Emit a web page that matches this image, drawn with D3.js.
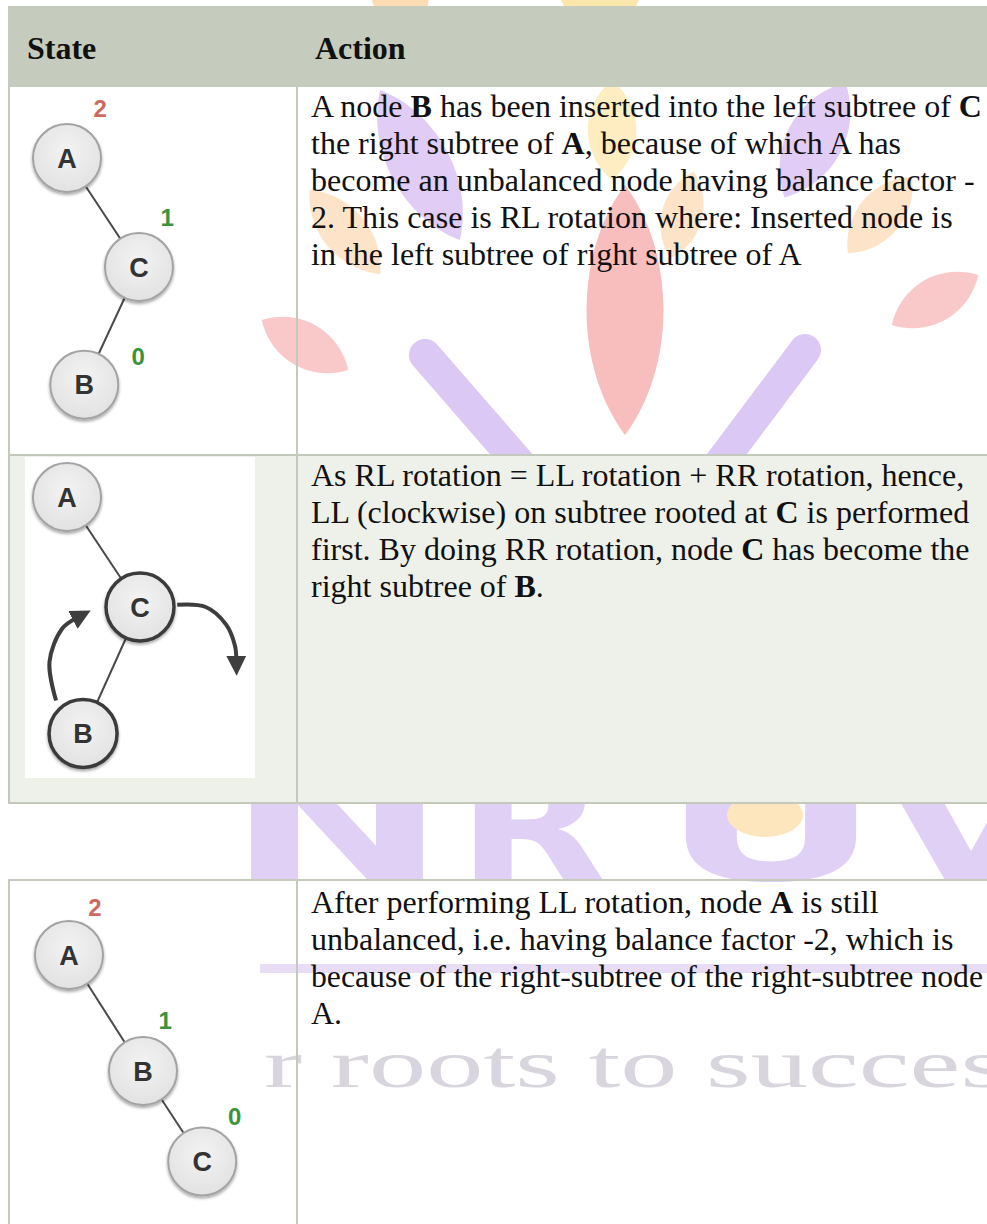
<!DOCTYPE html>
<html><head><meta charset="utf-8">
<script src="https://cdn.jsdelivr.net/npm/d3@7"></script>
<style>body{margin:0;background:#fff}svg{display:block}</style>
</head><body><div id="chart"></div>
<script>
// ---------- data ----------
const columnHeaders = ["State", "Action"];
const row1Lines = [
  "A node **B** has been inserted into the left subtree of **C**",
  "the right subtree of **A**, because of which A has",
  "become an unbalanced node having balance factor -",
  "2. This case is RL rotation where: Inserted node is",
  "in the left subtree of right subtree of A"
];
const row2Lines = [
  "As RL rotation = LL rotation + RR rotation, hence,",
  "LL (clockwise) on subtree rooted at **C** is performed",
  "first. By doing RR rotation, node **C** has become the",
  "right subtree of **B**."
];
const row3Lines = [
  "After performing LL rotation, node **A** is still",
  "unbalanced, i.e. having balance factor -2, which is",
  "because of the right-subtree of the right-subtree node",
  "A."
];
// tree diagrams in diagram units (col = horizontal step, level = depth step)
const tree1Nodes = [{id:"A",col:0,level:0},{id:"C",col:1,level:1},{id:"B",col:0.24,level:2.08}];
const tree1Edges = [["A","C"],["C","B"]];
const tree1Factors = [{text:"2",col:0.46,level:-0.46},{text:"1",col:1.39,level:0.54},{text:"0",col:0.99,level:1.82}];

const tree2Nodes = [{id:"A",col:0,level:0,focus:false},{id:"C",col:1,level:1,focus:true},{id:"B",col:0.22,level:2.15,focus:true}];
const tree2Edges = [["A","C"],["C","B"]];
const tree2Arrows = [
  [[-0.15,1.85],[-0.24,1.5],[-0.07,1.2],[0.13,1.1]],
  [[1.51,0.98],[1.9,1.0],[2.18,1.16],[2.3,1.35],[2.32,1.48]]
];

const tree3Nodes = [{id:"A",col:0,level:0},{id:"B",col:1,level:1},{id:"C",col:1.8,level:1.78}];
const tree3Edges = [["A","B"],["B","C"]];
const tree3Factors = [{text:"2",col:0.35,level:-0.41},{text:"1",col:1.3,level:0.56},{text:"0",col:2.24,level:1.39}];

const watermarkLetters = ["N","R","U","V"];
const watermarkTagline = "r roots to succes";

// ---------- drawing ----------
const W = 987, H = 1224;
const svg = d3.select("#chart").append("svg").attr("width", W).attr("height", H);
const defs = svg.append("defs");
const sh = defs.append("filter").attr("id","shadow").attr("x","-30%").attr("y","-30%").attr("width","160%").attr("height","160%");
sh.append("feDropShadow").attr("dx",0).attr("dy",2).attr("stdDeviation",1.6).attr("flood-color","#000").attr("flood-opacity",0.35);
const grad = defs.append("radialGradient").attr("id","nodeFill").attr("cx","50%").attr("cy","40%").attr("r","60%");
grad.append("stop").attr("offset","0%").attr("stop-color","#f3f3f3");
grad.append("stop").attr("offset","100%").attr("stop-color","#e2e2e2");
const mk = defs.append("marker").attr("id","arrowHead").attr("viewBox","0 0 10 10")
  .attr("refX",2).attr("refY",5).attr("markerWidth",20).attr("markerHeight",20)
  .attr("markerUnits","userSpaceOnUse").attr("orient","auto");
mk.append("path").attr("d","M0,0 L10,5 L0,10 z").attr("fill","#3e3e3e");

svg.append("rect").attr("width",W).attr("height",H).attr("fill","#fff");

// watermark (decorative logo)
const wm = svg.append("g");
function leaf(cx, cy, rx, ry, rot, fill) {
  wm.append("path")
    .attr("d", `M0,${-ry} C${rx*1.35},${-ry*0.45} ${rx*1.35},${ry*0.45} 0,${ry} C${-rx*1.35},${ry*0.45} ${-rx*1.35},${-ry*0.45} 0,${-ry}Z`)
    .attr("transform", `translate(${cx},${cy}) rotate(${rot})`)
    .attr("fill", fill);
}
leaf(600, -10, 40, 45, 0, "#fbe6ab");
leaf(400, -5, 28, 40, -20, "#fcdcb2");
leaf(420, 165, 30, 85, -28, "#e0ccf5");
leaf(815, 140, 28, 65, 28, "#e0ccf5");
leaf(612, 130, 24, 50, 0, "#fdedc0");
leaf(345, 232, 22, 55, -40, "#fde3c8");
leaf(682, 215, 20, 45, 15, "#fde3c8");
leaf(880, 215, 22, 50, 40, "#fde3c8");
leaf(625, 310, 38, 125, 0, "#f8bdbd");
leaf(305, 345, 22, 50, -60, "#f9c9c9");
leaf(935, 300, 22, 50, 60, "#f9c9c9");
wm.append("line").attr("x1",425).attr("y1",355).attr("x2",525).attr("y2",470)
  .attr("stroke","#dcc8f4").attr("stroke-width",32).attr("stroke-linecap","round");
wm.append("line").attr("x1",805).attr("y1",350).attr("x2",715).attr("y2",470)
  .attr("stroke","#dcc8f4").attr("stroke-width",32).attr("stroke-linecap","round");
const letterX = [227, 457, 661, 881], letterW = [220, 150, 220, 180];
const lt = wm.append("text").attr("y",880)
  .attr("font-family","DejaVu Sans").attr("font-weight","bold").attr("font-size",150)
  .attr("fill","#e0d0f5");
watermarkLetters.forEach((c,i)=>{
  lt.append("tspan").attr("x",letterX[i]).attr("textLength",letterW[i])
    .attr("lengthAdjust","spacingAndGlyphs").text(c);
});
wm.append("ellipse").attr("cx",765).attr("cy",815).attr("rx",38).attr("ry",22).attr("fill","#fde6bd");
wm.append("rect").attr("x",230).attr("y",964).attr("width",W-230).attr("height",9).attr("fill","#e8ddf4");
wm.append("text").attr("x",264).attr("y",1087)
  .attr("font-family","Liberation Serif").attr("font-size",68)
  .attr("textLength",741).attr("lengthAdjust","spacingAndGlyphs")
  .attr("fill","#d8d5de").text(watermarkTagline);

// table
const borderColor = "#c3c9bb";
const colX = 297, leftX = 9;
svg.append("rect").attr("x",8).attr("y",6).attr("width",W-8).attr("height",81).attr("fill","#c5cbbd");
svg.append("rect").attr("x",leftX).attr("y",455).attr("width",W-leftX).attr("height",348).attr("fill","#eef0ea");
// picture boxes
const boxes = [[10,88,248,366],[25,457,230,321],[11,883,249,341]];
svg.selectAll("rect.pic").data(boxes).enter().append("rect").attr("class","pic")
  .attr("x",d=>d[0]).attr("y",d=>d[1]).attr("width",d=>d[2]).attr("height",d=>d[3]).attr("fill","#fff");
// borders
const bl = svg.append("g").attr("stroke",borderColor).attr("stroke-width",2);
[[leftX,87,leftX,803],[leftX,880,leftX,H],[colX,87,colX,803],[colX,880,colX,H],
 [leftX,455,W,455],[leftX-1,803,W,803],[leftX-1,880,W,880]].forEach(l=>{
  bl.append("line").attr("x1",l[0]).attr("y1",l[1]).attr("x2",l[2]).attr("y2",l[3]);
});

// header texts
svg.selectAll("text.hdr").data(columnHeaders).enter().append("text").attr("class","hdr")
  .attr("x",(d,i)=> i===0 ? 27 : 315).attr("y",59)
  .attr("font-family","Liberation Serif").attr("font-weight","bold").attr("font-size",32)
  .attr("fill","#111").text(d=>d);

function drawLines(lines, top) {
  const g = svg.append("g").attr("font-family","Liberation Serif").attr("font-size",32).attr("fill","#111");
  lines.forEach((line, i) => {
    const t = g.append("text").attr("x",311).attr("y", top + i*37).attr("xml:space","preserve");
    line.split("**").forEach((seg, j) => {
      if (!seg) return;
      t.append("tspan").attr("font-weight", j%2 ? "bold" : "normal").text(seg);
    });
    const len = t.node().getBBox().width;
    if (311 + len > W - 4) t.attr("textLength", W - 4 - 311).attr("lengthAdjust","spacingAndGlyphs");
  });
}
drawLines(row1Lines, 117);
drawLines(row2Lines, 486);
drawLines(row3Lines, 913);

function drawTree(nodes, edges, factors, arrows, ox, oy, ux, uy) {
  const x = d3.scaleLinear().domain([0,1]).range([ox, ox+ux]);
  const y = d3.scaleLinear().domain([0,1]).range([oy, oy+uy]);
  const byId = new Map(nodes.map(n=>[n.id,n]));
  const g = svg.append("g");
  g.selectAll("line.edge").data(edges).enter().append("line")
    .attr("x1",d=>x(byId.get(d[0]).col)).attr("y1",d=>y(byId.get(d[0]).level))
    .attr("x2",d=>x(byId.get(d[1]).col)).attr("y2",d=>y(byId.get(d[1]).level))
    .attr("stroke","#4a4a4a").attr("stroke-width",2);
  if (arrows) {
    const line = d3.line().x(p=>x(p[0])).y(p=>y(p[1])).curve(d3.curveCatmullRom);
    g.selectAll("path.arrow").data(arrows).enter().append("path")
      .attr("d", line).attr("fill","none").attr("stroke","#3e3e3e").attr("stroke-width",4)
      .attr("marker-end","url(#arrowHead)");
  }
  const ng = g.selectAll("g.node").data(nodes).enter().append("g")
    .attr("transform", d=>`translate(${x(d.col)},${y(d.level)})`);
  ng.append("circle").attr("r",34).attr("fill","url(#nodeFill)")
    .attr("stroke", d=>d.focus ? "#3a3a3a" : "#a3a3a3")
    .attr("stroke-width", d=>d.focus ? 3.5 : 2).attr("filter","url(#shadow)");
  ng.append("text").attr("text-anchor","middle").attr("dy","0.36em")
    .attr("font-family","Liberation Sans").attr("font-weight","bold").attr("font-size",27)
    .attr("fill","#333").text(d=>d.id);
  if (factors) {
    g.selectAll("text.bf").data(factors).enter().append("text")
      .attr("x",d=>x(d.col)).attr("y",d=>y(d.level)).attr("dy","0.36em").attr("text-anchor","middle")
      .attr("font-family","Liberation Sans").attr("font-weight","bold").attr("font-size",24)
      .attr("fill", d=>Math.abs(+d.text) >= 2 ? "#cc6a5f" : "#3a933d").text(d=>d.text);
  }
}
drawTree(tree1Nodes, tree1Edges, tree1Factors, null, 67, 158, 72, 109);
drawTree(tree2Nodes, tree2Edges, null, tree2Arrows, 67, 497, 73, 110);
drawTree(tree3Nodes, tree3Edges, tree3Factors, null, 69, 955, 74, 116);
</script>
</body></html>
